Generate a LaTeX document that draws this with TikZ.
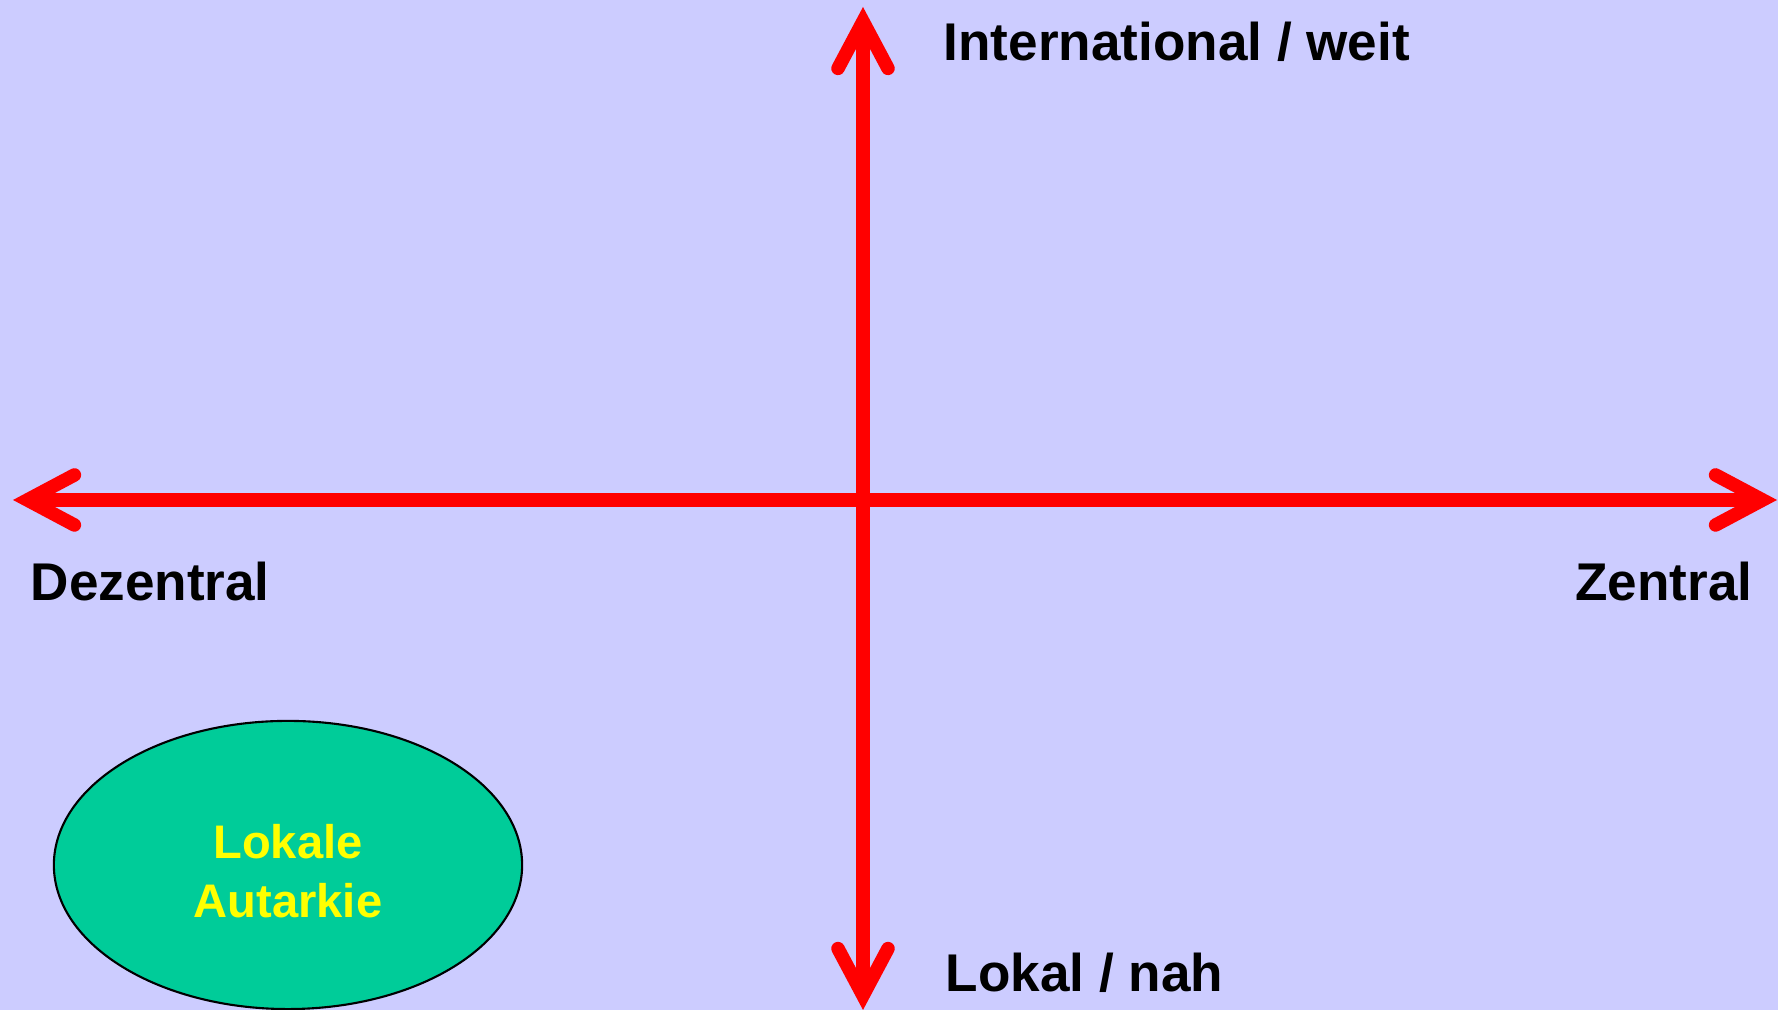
\documentclass[tikz,border=0pt]{standalone}
\usepackage{fontspec}
\setmainfont{Liberation Sans}
\usetikzlibrary{arrows.meta, shapes.geometric}
\definecolor{lavender}{HTML}{CCCCFF}
\definecolor{axisred}{HTML}{FF0000}
\definecolor{autgreen}{HTML}{00CC99}
\definecolor{autyellow}{HTML}{FFFF00}

\begin{document}
\begin{tikzpicture}[x=0.01cm, y=0.01cm,
  barb/.tip={Straight Barb[length=0.47cm, width=0.5cm, line cap=round, line join=miter]},
  axis/.style={axisred, line width=0.135cm, barb-barb},
  axislabel/.style={inner sep=0pt, font=\fontsize{15.1pt}{18pt}\selectfont\bfseries},
  region/.style={ellipse, draw=black, line width=0.6pt, fill=autgreen, text=autyellow,
    minimum width=4.68cm, minimum height=2.88cm, inner sep=0pt, align=center,
    text height=30pt, font=\fontsize{13.4pt}{16.8pt}\selectfont\bfseries}]

% Background
\fill[lavender] (0,0) rectangle (1778,1010);
\useasboundingbox (0,0) rectangle (1778,1010);

% Axis end points
\coordinate (left) at (13,510);
\coordinate (right) at (1777,510);
\coordinate (top) at (863,1003);
\coordinate (bottom) at (863,0);

% Axes
\draw[axis] (left) -- (right);
\draw[axis] (bottom) -- (top);

% Axis labels
\node[axislabel, anchor=base west] (weit) at (943,949) {International / weit};
\node[axislabel, anchor=base west] (nah) at (945,18) {Lokal / nah};
\node[axislabel, anchor=base west] (dezentral) at (30,409) {Dezentral};
\node[axislabel, anchor=base east] (zentral) at (1753,409) {Zentral};

% Region
\node[region] (autarkie) at (288,145) {Lokale\\Autarkie};

\end{tikzpicture}
\end{document}
